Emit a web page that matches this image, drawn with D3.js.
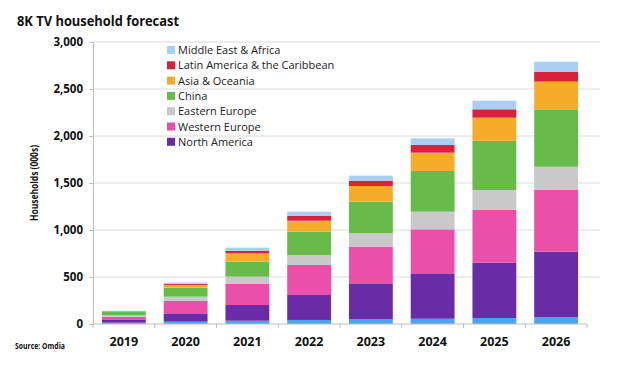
<!DOCTYPE html>
<html><head><meta charset="utf-8">
<script src="https://cdn.jsdelivr.net/npm/d3@7"></script>
<style>body{margin:0;background:#fff}svg{display:block}text{font-family:"Open Sans","Liberation Sans",sans-serif}</style>
</head><body><div id="chart"></div>
<script>
const years = ["2019","2020","2021","2022","2023","2024","2025","2026"];
const other = [14, 25, 35, 43, 53, 56, 64, 71];
const northAmerica = [29, 88, 167, 266, 373, 483, 588, 698];
const westernEurope = [35, 132, 224, 319, 397, 468, 561, 657];
const easternEurope = [14, 46, 78, 106, 142, 188, 213, 247];
const china = [36, 95, 159, 248, 336, 433, 524, 611];
const asiaOceania = [6, 30, 89, 117, 167, 195, 245, 294];
const latinAmerica = [3, 10, 28, 53, 57, 81, 89, 106];
const middleEastAfrica = [4, 14, 32, 43, 53, 71, 92, 106];
const yTicks = [0, 500, 1000, 1500, 2000, 2500, 3000];

const series = [
  {key:"Other", values: other, color:"#4ba5ec", legend:false},
  {key:"North America", values: northAmerica, color:"#6a2ba6", legend:true},
  {key:"Western Europe", values: westernEurope, color:"#ea4fa9", legend:true},
  {key:"Eastern Europe", values: easternEurope, color:"#c9c9c9", legend:true},
  {key:"China", values: china, color:"#67bb48", legend:true},
  {key:"Asia & Oceania", values: asiaOceania, color:"#f4ac2a", legend:true},
  {key:"Latin America & the Caribbean", values: latinAmerica, color:"#d8213b", legend:true},
  {key:"Middle East & Africa", values: middleEastAfrica, color:"#a9cff4", legend:true}
];

const W = 627, H = 366;
const svg = d3.select("#chart").append("svg").attr("width", W).attr("height", H);
const x0 = 93, x1 = 587, yTop = 42, yBot = 324;

const x = d3.scaleBand().domain(years).range([x0, x1]).paddingInner(0.29).paddingOuter(0.145);
const y = d3.scaleLinear().domain([0, 3000]).range([yBot, yTop]);

// gridlines
svg.append("g").selectAll("line").data(yTicks.filter(d => d > 0)).join("line")
  .attr("x1", x0).attr("x2", 600).attr("y1", d => y(d)).attr("y2", d => y(d))
  .attr("stroke", "#dcdcdc").attr("stroke-width", 1);

// stack
const table = years.map((yr, i) => { const o = {year: yr}; series.forEach(s => o[s.key] = s.values[i]); return o; });
const stack = d3.stack().keys(series.map(s => s.key));
const layers = stack(table);
svg.append("g").selectAll("g").data(layers).join("g")
  .attr("fill", (d, i) => series[i].color)
  .selectAll("rect").data(d => d).join("rect")
  .attr("x", d => x(d.data.year)).attr("width", x.bandwidth())
  .attr("y", d => y(d[1])).attr("height", d => y(d[0]) - y(d[1]));

// y axis
const yAxis = svg.append("g").attr("transform", `translate(${x0},0)`)
  .call(d3.axisLeft(y).tickValues(yTicks).tickSize(4).tickPadding(6).tickFormat(d3.format(",")));
yAxis.select(".domain").attr("stroke", "#bdbdbd");
yAxis.selectAll(".tick line").attr("stroke", "#bdbdbd");
yAxis.selectAll("text").attr("font-size", 11.5).attr("font-weight", "bold").attr("fill", "#111");

// x axis
const xAxis = svg.append("g").attr("transform", `translate(0,${yBot})`);
xAxis.append("line").attr("x1", x0).attr("x2", x1).attr("stroke", "#bdbdbd");
const step = x.step();
const bounds = d3.range(years.length + 1).map(i => x0 + i * (x1 - x0) / years.length);
xAxis.selectAll(".tk").data(bounds).join("line").attr("class","tk")
  .attr("x1", d => d).attr("x2", d => d).attr("y1", 0).attr("y2", 4).attr("stroke", "#bdbdbd");
xAxis.selectAll("text").data(years).join("text")
  .attr("x", d => x(d) + x.bandwidth() / 2).attr("y", 22)
  .attr("text-anchor", "middle").attr("font-size", 12.5).attr("font-weight", "bold").attr("fill", "#111")
  .text(d => d);

// title
svg.append("text").attr("x", 17).attr("y", 26).attr("font-size", 15).attr("font-weight", "bold")
  .attr("fill", "#111").attr("textLength", 162).attr("lengthAdjust", "spacingAndGlyphs")
  .text("8K TV household forecast");

// y title
svg.append("text").attr("transform", `translate(38,${(yTop + yBot) / 2}) rotate(-90)`)
  .attr("text-anchor", "middle").attr("font-size", 10.5).attr("font-weight", "bold").attr("fill", "#111")
  .attr("textLength", 76).attr("lengthAdjust", "spacingAndGlyphs")
  .text("Households (000s)");

// source
svg.append("text").attr("x", 15).attr("y", 349).attr("font-size", 9).attr("font-weight", "bold")
  .attr("fill", "#111").attr("textLength", 50).attr("lengthAdjust", "spacingAndGlyphs").text("Source: Omdia");

// legend
const leg = series.filter(s => s.legend).slice().reverse();
const lg = svg.append("g").selectAll("g").data(leg).join("g")
  .attr("transform", (d, i) => `translate(167,${50 + i * 15.3})`);
lg.append("rect").attr("x", 0).attr("y", -4).attr("width", 8).attr("height", 8).attr("fill", d => d.color);
lg.append("text").attr("x", 11).attr("y", 4).attr("font-size", 11).attr("fill", "#222").text(d => d.key);
</script></body></html>
